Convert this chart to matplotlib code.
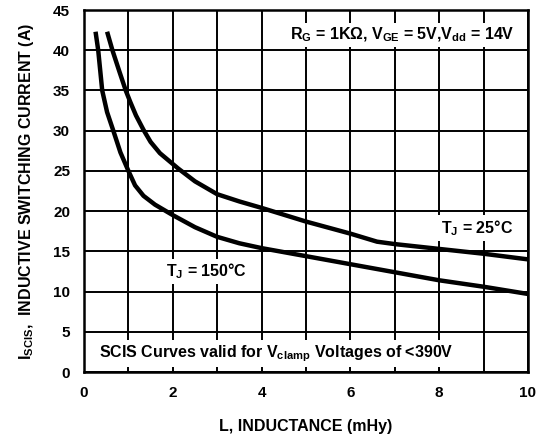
import matplotlib
matplotlib.use("Agg")
import matplotlib.pyplot as plt

plt.rcParams['font.family'] = ['Liberation Sans', 'DejaVu Sans']
plt.rcParams['font.weight'] = 'bold'
plt.rcParams['mathtext.fontset'] = 'custom'
plt.rcParams['mathtext.rm'] = 'Liberation Sans:bold'
plt.rcParams['mathtext.it'] = 'Liberation Sans:bold'
plt.rcParams['mathtext.bf'] = 'Liberation Sans:bold'

# T_J = 25°C curve
l_25 = [0.52, 0.64, 0.80, 0.94, 1.04, 1.17, 1.34, 1.5, 1.71, 2.12, 2.5, 3.0, 3.5, 4.0, 5.0, 6.0, 6.6, 7.0, 8.0, 9.0, 10.0]
i_25 = [42.3, 40.0, 37.3, 35.0, 33.6, 31.9, 30.1, 28.6, 27.2, 25.3, 23.7, 22.1, 21.2, 20.4, 18.7, 17.2, 16.2, 15.9, 15.3, 14.7, 14.0]

# T_J = 150°C curve
l_150 = [0.26, 0.32, 0.41, 0.52, 0.66, 0.82, 1.0, 1.15, 1.34, 1.6, 2.0, 2.5, 3.0, 3.5, 4.0, 5.0, 6.0, 7.0, 8.0, 9.0, 10.0]
i_150 = [42.3, 40.0, 35.0, 32.3, 30.0, 27.3, 25.0, 23.2, 21.9, 20.8, 19.5, 18.0, 16.8, 16.0, 15.4, 14.4, 13.4, 12.4, 11.4, 10.6, 9.7]

x_ticks = [0, 2, 4, 6, 8, 10]
y_ticks = [0, 5, 10, 15, 20, 25, 30, 35, 40, 45]

fig = plt.figure(figsize=(5.4, 4.41), dpi=100)
ax = fig.add_axes([84/540, 1-372/441, 444/540, 362/441])

ax.set_xlim(0, 10)
ax.set_ylim(0, 45)
ax.set_xticks(x_ticks)
ax.set_xticks(range(0, 11), minor=True)
ax.set_yticks(y_ticks)
ax.grid(True, which='both', color='black', linewidth=1.4)
ax.tick_params(which='both', length=0, labelsize=11, pad=10)
for lab in ax.get_xticklabels() + ax.get_yticklabels():
    lab.set_fontweight('bold')
for sp in ax.spines.values():
    sp.set_linewidth(1.8)
ax.set_axisbelow(True)

ax.plot(l_25, i_25, color='black', linewidth=3.2, solid_capstyle='butt',
        solid_joinstyle='round', zorder=3)
ax.plot(l_150, i_150, color='black', linewidth=3.2, solid_capstyle='butt',
        solid_joinstyle='round', zorder=3)

box = dict(facecolor='white', edgecolor='none', pad=2)
fs = 11.5
ax.text(7.17, 41.9, r'R$_{G}$ = 1K$\Omega$, V$_{GE}$ = 5V,V$_{dd}$ = 14V',
        ha='center', va='center', fontsize=fs, fontweight='bold', bbox=box, zorder=4)
ax.text(8.85, 17.9, r'T$_{J}$ = 25°C', ha='center', va='center', fontsize=fs,
        fontweight='bold', bbox=box, zorder=4)
ax.text(2.77, 12.5, r'T$_{J}$ = 150°C', ha='center', va='center', fontsize=fs,
        fontweight='bold', bbox=box, zorder=4)
ax.text(4.34, 2.3, r'SCIS Curves valid for V$_{clamp}$ Voltages of <390V',
        ha='center', va='center', fontsize=fs, fontweight='bold', bbox=box, zorder=4)

ax.set_xlabel('L, INDUCTANCE (mHy)', fontsize=fs, fontweight='bold', labelpad=14)
ax.set_ylabel(r'I$_{SCIS}$,  INDUCTIVE SWITCHING CURRENT (A)', fontsize=fs,
              fontweight='bold', labelpad=12)

fig.savefig('out.png', dpi=100)
